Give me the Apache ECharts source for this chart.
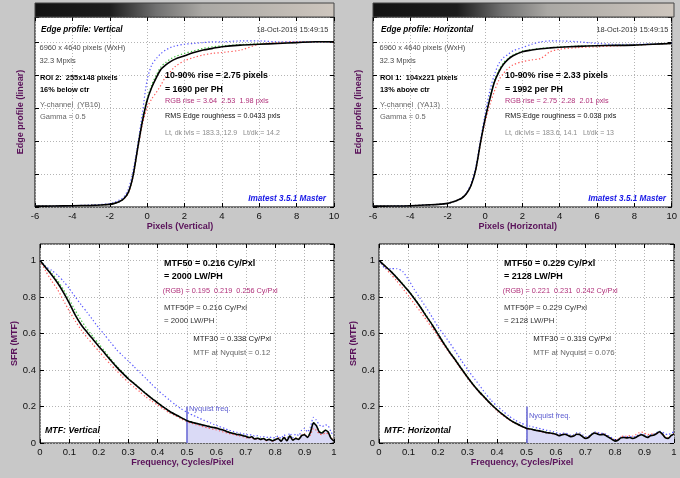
<!DOCTYPE html>
<html><head><meta charset="utf-8">
<script src="https://cdn.jsdelivr.net/npm/echarts@6.0.0/dist/echarts.min.js"></script>
<style>html,body{margin:0;padding:0;background:#c8c8c8}#c{width:680px;height:478px}</style>
</head><body><div id="c"></div><script>
// ---------- DATA ----------
const edgeX = [-6,-5,-4,-3,-2.5,-2,-1.75,-1.5,-1.25,-1,-0.75,-0.5,-0.25,0,0.25,0.5,0.75,1,1.25,1.5,2,2.5,3,3.5,4,5,6,7,8,9,10];
const edgeVBlack = [0.005,0.006,0.008,0.01,0.012,0.016,0.022,0.032,0.05,0.09,0.19,0.36,0.52,0.645,0.725,0.785,0.835,0.86,0.88,0.895,0.915,0.935,0.95,0.96,0.97,0.98,0.985,0.99,0.995,1.0,1.0];
const edgeVRed   = [0.005,0.006,0.008,0.01,0.012,0.016,0.022,0.032,0.048,0.085,0.185,0.35,0.5,0.6,0.655,0.695,0.74,0.79,0.82,0.85,0.885,0.905,0.92,0.93,0.935,0.95,0.985,0.995,1.0,1.0,1.0];
const edgeVGreen = [0.005,0.006,0.008,0.01,0.012,0.016,0.022,0.032,0.05,0.09,0.19,0.36,0.53,0.655,0.74,0.8,0.85,0.875,0.895,0.91,0.93,0.945,0.96,0.97,0.975,0.983,0.988,0.992,0.996,1.0,1.0];
const edgeVBlue  = [0.005,0.006,0.008,0.012,0.015,0.02,0.028,0.042,0.06,0.11,0.22,0.38,0.57,0.77,0.86,0.9,0.93,0.95,0.965,0.975,0.985,0.99,0.995,1.0,1.0,1.005,1.005,1.0,1.0,1.0,1.0];
const edgeHBlack = [0.005,0.006,0.008,0.013,0.016,0.022,0.03,0.04,0.053,0.08,0.13,0.225,0.385,0.53,0.65,0.755,0.82,0.865,0.895,0.915,0.94,0.95,0.958,0.963,0.967,0.972,0.976,0.978,0.98,0.985,0.99];
const edgeHRed   = [0.005,0.006,0.008,0.013,0.016,0.022,0.03,0.04,0.053,0.08,0.13,0.22,0.375,0.51,0.615,0.7,0.77,0.81,0.84,0.86,0.88,0.89,0.9,0.94,0.955,0.965,0.97,0.975,0.98,0.985,0.99];
const edgeHGreen = [0.005,0.006,0.008,0.013,0.016,0.022,0.03,0.04,0.053,0.08,0.13,0.225,0.385,0.535,0.66,0.765,0.83,0.875,0.9,0.92,0.943,0.953,0.96,0.965,0.969,0.974,0.977,0.979,0.981,0.986,0.99];
const edgeHBlue  = [0.005,0.006,0.008,0.013,0.016,0.022,0.03,0.04,0.055,0.085,0.14,0.24,0.4,0.56,0.7,0.8,0.87,0.905,0.925,0.945,0.965,0.985,1.0,1.005,1.005,1.0,0.99,0.985,0.985,0.988,0.99];

const mtfF = [0,0.02,0.04,0.06,0.08,0.1,0.12,0.14,0.16,0.18,0.2,0.22,0.24,0.26,0.28,0.3,0.32,0.34,0.36,0.38,0.4,0.42,0.44,0.46,0.48,0.5,
  0.51,0.52,0.53,0.54,0.55,0.56,0.57,0.58,0.59,0.6,0.61,0.62,0.63,0.64,0.65,0.66,0.67,0.68,0.69,0.7,
  0.71,0.72,0.73,0.74,0.75,0.76,0.77,0.78,0.79,0.8,0.81,0.82,0.83,0.84,0.85,0.86,0.87,0.88,0.89,0.9,
  0.91,0.92,0.93,0.94,0.95,0.96,0.97,0.98,0.99,1.0];
const mtfVBlack = [1.0,0.96,0.92,0.876,0.824,0.765,0.70,0.648,0.607,0.568,0.529,0.492,0.454,0.417,0.384,0.352,0.325,0.298,0.27,0.244,0.22,0.196,0.174,0.156,0.139,0.122,
  0.117,0.112,0.108,0.104,0.1,0.096,0.092,0.088,0.085,0.082,0.077,0.072,0.067,0.06,0.055,0.052,0.047,0.045,0.04,0.037,
  0.03,0.034,0.022,0.026,0.02,0.025,0.015,0.02,0.012,0.018,0.025,0.01,0.03,0.012,0.04,0.015,0.025,0.02,0.04,0.045,
  0.03,0.06,0.11,0.095,0.06,0.055,0.07,0.06,0.025,0.01];
const mtfVRed = [1.0,0.94,0.887,0.84,0.78,0.722,0.668,0.62,0.578,0.54,0.503,0.465,0.43,0.397,0.364,0.333,0.306,0.28,0.252,0.23,0.208,0.186,0.166,0.15,0.133,0.116,
  0.111,0.106,0.1,0.096,0.092,0.087,0.083,0.079,0.075,0.072,0.067,0.062,0.058,0.053,0.049,0.045,0.042,0.038,0.034,0.03,
  0.027,0.03,0.02,0.024,0.018,0.022,0.012,0.018,0.01,0.015,0.03,0.012,0.035,0.015,0.04,0.02,0.03,0.025,0.045,0.05,
  0.035,0.045,0.08,0.07,0.05,0.045,0.055,0.05,0.03,0.015];
const mtfVGreen = [1.0,0.965,0.93,0.89,0.84,0.785,0.725,0.672,0.625,0.583,0.543,0.503,0.462,0.423,0.389,0.356,0.328,0.3,0.272,0.246,0.222,0.198,0.176,0.157,0.14,0.123,
  0.118,0.113,0.109,0.105,0.101,0.097,0.093,0.089,0.086,0.083,0.078,0.073,0.068,0.062,0.057,0.053,0.048,0.046,0.041,0.038,
  0.032,0.035,0.024,0.028,0.022,0.026,0.017,0.022,0.014,0.02,0.027,0.013,0.032,0.015,0.042,0.018,0.028,0.023,0.042,0.047,
  0.033,0.062,0.112,0.097,0.063,0.058,0.072,0.062,0.028,0.012];
const mtfVBlue = [1.0,0.965,0.945,0.92,0.885,0.845,0.80,0.757,0.716,0.673,0.63,0.592,0.552,0.512,0.48,0.45,0.418,0.386,0.354,0.322,0.29,0.263,0.236,0.21,0.187,0.168,
  0.16,0.152,0.145,0.138,0.13,0.123,0.117,0.11,0.103,0.097,0.09,0.085,0.078,0.072,0.067,0.062,0.058,0.054,0.05,0.047,
  0.043,0.045,0.037,0.04,0.033,0.035,0.03,0.034,0.028,0.03,0.038,0.025,0.045,0.03,0.055,0.03,0.05,0.04,0.07,0.08,
  0.06,0.09,0.14,0.125,0.1,0.09,0.1,0.095,0.06,0.04];
const mtfHBlack = [1.0,0.97,0.94,0.906,0.87,0.832,0.79,0.745,0.695,0.648,0.596,0.544,0.496,0.452,0.405,0.36,0.318,0.28,0.246,0.212,0.182,0.155,0.131,0.111,0.095,0.08,
  0.077,0.074,0.07,0.067,0.064,0.06,0.056,0.055,0.052,0.048,0.04,0.045,0.048,0.042,0.035,0.038,0.048,0.047,0.035,0.025,
  0.03,0.045,0.055,0.05,0.045,0.047,0.04,0.03,0.02,0.01,0.015,0.028,0.03,0.028,0.03,0.025,0.03,0.04,0.045,0.038,
  0.03,0.04,0.042,0.05,0.062,0.05,0.03,0.025,0.04,0.05];
const mtfHRed = [1.0,0.96,0.925,0.888,0.848,0.806,0.762,0.72,0.675,0.63,0.583,0.535,0.49,0.446,0.4,0.356,0.315,0.277,0.242,0.209,0.177,0.151,0.128,0.109,0.093,0.079,
  0.076,0.073,0.069,0.066,0.063,0.059,0.055,0.053,0.05,0.046,0.042,0.047,0.05,0.044,0.037,0.04,0.05,0.048,0.037,0.028,
  0.033,0.047,0.058,0.054,0.048,0.05,0.043,0.033,0.024,0.015,0.02,0.033,0.038,0.036,0.04,0.038,0.045,0.055,0.06,0.055,
  0.045,0.05,0.048,0.052,0.058,0.048,0.035,0.03,0.042,0.05];
const mtfHGreen = [1.0,0.97,0.942,0.909,0.873,0.835,0.794,0.749,0.7,0.652,0.6,0.548,0.5,0.455,0.408,0.363,0.321,0.283,0.249,0.215,0.185,0.157,0.133,0.113,0.097,0.082,
  0.079,0.076,0.072,0.069,0.066,0.062,0.058,0.056,0.053,0.049,0.041,0.046,0.049,0.043,0.036,0.039,0.049,0.048,0.036,0.026,
  0.031,0.046,0.056,0.051,0.046,0.048,0.041,0.031,0.021,0.012,0.016,0.029,0.031,0.029,0.031,0.026,0.031,0.041,0.046,0.039,
  0.031,0.041,0.043,0.051,0.062,0.05,0.032,0.027,0.042,0.05];
const mtfHBlue = [1.0,0.958,0.955,0.955,0.94,0.895,0.84,0.79,0.742,0.69,0.636,0.593,0.548,0.5,0.45,0.403,0.36,0.317,0.273,0.234,0.202,0.175,0.148,0.126,0.11,0.097,
  0.093,0.089,0.085,0.081,0.077,0.073,0.069,0.066,0.062,0.058,0.05,0.052,0.055,0.05,0.043,0.045,0.055,0.055,0.045,0.035,
  0.038,0.05,0.06,0.058,0.052,0.053,0.047,0.038,0.028,0.018,0.02,0.032,0.036,0.034,0.036,0.032,0.036,0.045,0.05,0.045,
  0.038,0.045,0.048,0.055,0.065,0.06,0.05,0.045,0.055,0.06];

const nyquistFreq = 0.5;
const nyquistMarkTop = 0.2;

const edgeXAxis = {min:-6, max:10, interval:2};
const mtfXAxis = {min:0, max:1, interval:0.1};

const axisNames = {
  edgeY: 'Edge profile (linear)', mtfY: 'SFR (MTF)',
  edgeXV: 'Pixels (Vertical)', edgeXH: 'Pixels (Horizontal)', mtfX: 'Frequency, Cycles/Pixel'
};

const edgeText = [
  { title:'Edge profile: Vertical', date:'18-Oct-2019 15:49:15',
    info:['6960 x 4640 pixels (WxH)','32.3 Mpxls'], roi:['ROI 2:  255x148 pixels','16% below ctr'], chan:['Y-channel  (YB16)','Gamma = 0.5'],
    rise:['10-90% rise = 2.75 pixels','= 1690 per PH'], rgb:'RGB rise = 3.64  2.53  1.98 pxls', rms:'RMS Edge roughness = 0.0433 pxls',
    lvls:'Lt, dk lvls = 183.3, 12.9   Lt/dk = 14.2', brand:'Imatest 3.5.1 Master' },
  { title:'Edge profile: Horizontal', date:'18-Oct-2019 15:49:15',
    info:['6960 x 4640 pixels (WxH)','32.3 Mpxls'], roi:['ROI 1:  104x221 pixels','13% above ctr'], chan:['Y-channel  (YA13)','Gamma = 0.5'],
    rise:['10-90% rise = 2.33 pixels','= 1992 per PH'], rgb:'RGB rise = 2.75  2.28  2.01 pxls', rms:'RMS Edge roughness = 0.038 pxls',
    lvls:'Lt, dk lvls = 183.6, 14.1   Lt/dk = 13', brand:'Imatest 3.5.1 Master' }
];
const mtfText = [
  { mtf50:['MTF50 = 0.216 Cy/Pxl','= 2000 LW/PH'], rgb:'(RGB) = 0.195  0.219  0.256 Cy/Pxl', p:['MTF50P = 0.216 Cy/Pxl','= 2000 LW/PH'],
    m30:['MTF30 = 0.338 Cy/Pxl','MTF at Nyquist = 0.12'], nyq:'Nyquist freq.', title:'MTF: Vertical' },
  { mtf50:['MTF50 = 0.229 Cy/Pxl','= 2128 LW/PH'], rgb:'(RGB) = 0.221  0.231  0.242 Cy/Pxl', p:['MTF50P = 0.229 Cy/Pxl','= 2128 LW/PH'],
    m30:['MTF30 = 0.319 Cy/Pxl','MTF at Nyquist = 0.076'], nyq:'Nyquist freq.', title:'MTF: Horizontal' }
];

// ---------- CHART ----------
const FONT = "'Liberation Sans', Arial, sans-serif";
const chart = echarts.init(document.getElementById('c'), null, {renderer:'canvas'});
const pairs = (xs, ys) => xs.map((x,i)=>[x, ys[i]]);

const grids = [
  {left:35, top:17, width:299, height:190},
  {left:373, top:17, width:301, height:190},
  {left:40, top:244, width:294, height:199},
  {left:379, top:244, width:295, height:199}
].map(g => Object.assign({show:true, backgroundColor:'#fff', borderColor:'#000', borderWidth:1, containLabel:false}, g));

const nameStyle = {color:'#5a125a', fontWeight:'bold', fontSize:9, fontFamily:FONT};
const tickStyle = {show:true, inside:true, length:4, lineStyle:{color:'#000', width:1}};
const splitStyle = {show:true, lineStyle:{color:'#b4b4b4', type:[1,2], width:1}};

const xAxes = [], yAxes = [];
function addX(gi, ax, name, gap){
  xAxes.push({type:'value', gridIndex:gi, position:'bottom', min:ax.min, max:ax.max, interval:ax.interval,
    name, nameLocation:'middle', nameGap:gap, nameTextStyle:Object.assign({padding:[0,9,0,0]}, nameStyle),
    axisLine:{show:false, onZero:false}, axisTick:tickStyle,
    axisLabel:{color:'#111', fontSize:9.5, fontFamily:FONT, margin:4},
    splitLine:splitStyle});
  xAxes.push({type:'value', gridIndex:gi, position:'top', min:ax.min, max:ax.max, interval:ax.interval,
    axisLine:{show:false, onZero:false}, axisTick:tickStyle, axisLabel:{show:false}, splitLine:{show:false}});
}
function addY(gi, min, max, name, gap, labels){
  yAxes.push({type:'value', gridIndex:gi, position:'left', min, max, interval:0.2,
    name, nameLocation:'middle', nameGap:gap, nameTextStyle:nameStyle,
    axisLine:{show:false, onZero:false}, axisTick:tickStyle,
    axisLabel:{show:labels, color:'#111', fontSize:9.5, fontFamily:FONT, margin:4, showMaxLabel:false},
    splitLine:splitStyle});
  yAxes.push({type:'value', gridIndex:gi, position:'right', min, max, interval:0.2,
    axisLine:{show:false, onZero:false}, axisTick:tickStyle, axisLabel:{show:false}, splitLine:{show:false}});
}
addX(0, edgeXAxis, axisNames.edgeXV, 14); addY(0, 0, 1.15, axisNames.edgeY, 10, false);
addX(1, edgeXAxis, axisNames.edgeXH, 14); addY(1, 0, 1.15, axisNames.edgeY, 10, false);
addX(2, mtfXAxis, axisNames.mtfX, 13);   addY(2, 0, 1.09, axisNames.mtfY, 19, true);
addX(3, mtfXAxis, axisNames.mtfX, 13);   addY(3, 0, 1.09, axisNames.mtfY, 19, true);

const series = [];
function ln(gi, xs, ys, color, dotted, smooth){
  series.push({type:'line', xAxisIndex:gi*2, yAxisIndex:gi*2, data:pairs(xs, ys), symbol:'none', smooth,
    lineStyle:{color, width: dotted ? 1.2 : 1.6, type: dotted ? [1.3,2.2] : 'solid'}, z: dotted ? 3 : 5, silent:true});
}
function shade(gi, ys){
  const d = pairs(mtfF, ys).filter(p => p[0] >= nyquistFreq);
  series.push({type:'line', xAxisIndex:gi*2, yAxisIndex:gi*2, data:d, symbol:'none', silent:true, z:1,
    lineStyle:{width:0}, areaStyle:{color:'#dadaf6', opacity:1, origin:'start'},
    markLine:{silent:true, symbol:'none', label:{show:false}, lineStyle:{color:'#6c6cd6', width:1.6, type:'solid'},
      data:[[{coord:[nyquistFreq,0]},{coord:[nyquistFreq,nyquistMarkTop]}]]}});
}
const RED='#ff5a5a', GREEN='#3cc03c', BLUE='#5a5aff', BLACK='#000';
ln(0, edgeX, edgeVRed, RED, true, 0.3); ln(0, edgeX, edgeVGreen, GREEN, true, 0.3); ln(0, edgeX, edgeVBlue, BLUE, true, 0.3); ln(0, edgeX, edgeVBlack, BLACK, false, 0.3);
ln(1, edgeX, edgeHRed, RED, true, 0.3); ln(1, edgeX, edgeHGreen, GREEN, true, 0.3); ln(1, edgeX, edgeHBlue, BLUE, true, 0.3); ln(1, edgeX, edgeHBlack, BLACK, false, 0.3);
shade(2, mtfVBlack);
ln(2, mtfF, mtfVRed, RED, true, 0.2); ln(2, mtfF, mtfVGreen, GREEN, true, 0.2); ln(2, mtfF, mtfVBlue, BLUE, true, 0.2); ln(2, mtfF, mtfVBlack, BLACK, false, 0.2);
shade(3, mtfHBlack);
ln(3, mtfF, mtfHRed, RED, true, 0.2); ln(3, mtfF, mtfHGreen, GREEN, true, 0.2); ln(3, mtfF, mtfHBlue, BLUE, true, 0.2); ln(3, mtfF, mtfHBlack, BLACK, false, 0.2);

// ---------- TEXT / DECORATION ----------
const graphic = [];
function txt(x, y, text, size, color, weight, style, align){
  graphic.push({type:'text', z:50, silent:true, style:{x, y, text, fill:color, fontSize:size, fontFamily:FONT,
    fontWeight:weight||'normal', fontStyle:style||'normal', align:align||'left', verticalAlign:'middle',
    textAlign:align||'left', textVerticalAlign:'middle'}});
}
function bar(x, w, darkEnd, lightStart){
  graphic.push({type:'rect', z:40, silent:true, shape:{x, y:3, width:w, height:14},
    style:{stroke:'#444', lineWidth:1, fill:new echarts.graphic.LinearGradient(0,0,1,0,[
      {offset:0, color:'#121212'},{offset:darkEnd, color:'#1c1c1c'},
      {offset:darkEnd+0.06, color:'#3c3c3c'},{offset:(darkEnd+lightStart)/2, color:'#707070'},
      {offset:lightStart, color:'#aaa8a4'},{offset:1, color:'#cec6be'}])}});
}
bar(35, 299, 0.25, 0.56);
bar(373, 301, 0.28, 0.58);

edgeText.forEach((t, i) => {
  const o = i * 340;
  txt(41+o, 30, t.title, 8.2, '#000', 'bold', 'italic');
  txt(328.3+o, 30, t.date, 7.4, '#333', 'normal', 'normal', 'right');
  txt(39.5+o, 47.7, t.info[0], 7.5, '#4a4a4a');
  txt(39.5+o, 61, t.info[1], 7.5, '#4a4a4a');
  txt(40+o, 78.3, t.roi[0], 7.4, '#000', 'bold');
  txt(40+o, 90.3, t.roi[1], 7.4, '#000', 'bold');
  txt(40+o, 105.3, t.chan[0], 7.5, '#666');
  txt(40+o, 117.3, t.chan[1], 7.5, '#666');
  txt(165+o, 76, t.rise[0], 8.8, '#000', 'bold');
  txt(165+o, 89.3, t.rise[1], 8.8, '#000', 'bold');
  txt(165+o, 101.3, t.rgb, 7.3, '#b0307a');
  txt(165+o, 115.7, t.rms, 7.2, '#111');
  txt(165+o, 132.7, t.lvls, 7, '#8c8c8c');
  txt(326+o, 198.3, t.brand, 8.2, '#1818e6', 'bold', 'italic', 'right');
});
mtfText.forEach((t, i) => {
  const o = i * 340;
  txt(164+o, 264, t.mtf50[0], 9, '#000', 'bold');
  txt(164+o, 276.5, t.mtf50[1], 9, '#000', 'bold');
  txt(162.7+o, 291, t.rgb, 7.3, '#b0307a');
  txt(164+o, 308.3, t.p[0], 7.8, '#333');
  txt(164+o, 321, t.p[1], 7.8, '#333');
  txt(193.3+o, 339, t.m30[0], 7.8, '#222');
  txt(193.3+o, 352.7, t.m30[1], 7.8, '#666');
  txt(189+o, i === 0 ? 408.7 : 416, t.nyq, 7.4, '#5a5ad0');
  txt(45+o - (i ? 0.7 : 0), 431, t.title, 8.8, '#000', 'bold', 'italic');
});

chart.setOption({
  backgroundColor:'#c8c8c8', animation:false,
  textStyle:{fontFamily:FONT},
  grid:grids, xAxis:xAxes, yAxis:yAxes, series, graphic
});
</script></body></html>
